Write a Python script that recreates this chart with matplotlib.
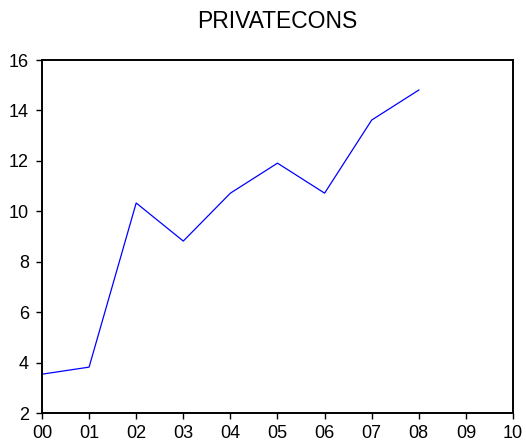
import matplotlib
matplotlib.use('Agg')
import matplotlib.pyplot as plt

# yearly values
years = ['00', '01', '02', '03', '04', '05', '06', '07', '08', '09', '10']
privatecons = [3.54, 3.82, 10.33, 8.82, 10.72, 11.91, 10.72, 13.62, 14.81]

plt.rcParams['font.family'] = ['Liberation Sans', 'DejaVu Sans']

fig = plt.figure(figsize=(5.26, 4.48), dpi=100)
ax = fig.add_axes([0.0798, 0.0781, 0.8955, 0.7879])

ax.plot(range(len(privatecons)), privatecons, color='blue', linewidth=0.9)

ax.set_xlim(0, len(years) - 1)
ax.set_ylim(2, 16)
ax.set_xticks(range(len(years)))
ax.set_xticklabels(years)
ax.set_yticks(range(2, 17, 2))

for s in ax.spines.values():
    s.set_linewidth(1.4)
ax.tick_params(direction='out', length=4.5, width=1, labelsize=13)
ax.tick_params(axis='y', pad=5)
ax.tick_params(axis='x', pad=4)

ax.set_title('PRIVATECONS', fontsize=16.5, pad=23)

fig.savefig('out.png', dpi=100)
